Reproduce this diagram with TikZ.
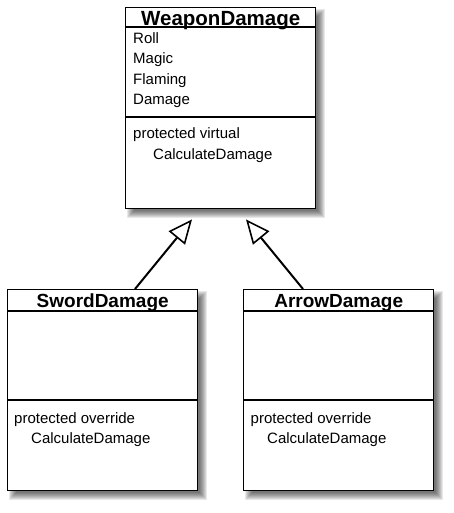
\documentclass[tikz,border=0pt]{standalone}
\usepackage{fontspec}
\setmainfont{Liberation Sans}
\usetikzlibrary{arrows.meta}
\newcommand{\shadowrect}[4]{%
  \foreach \r in {-3,-2,...,4}{%
    \fill[black,opacity=0.09] ({#1+6-\r},{#2+6-\r}) rectangle ({#3+6+\r},{#4+6+\r});
  }%
}
\tikzset{
  umlbox/.style={draw=black, line width=1.4pt, fill=white, rectangle, inner sep=0pt, anchor=north west},
  umltitle/.style={font=\fontsize{20.5}{22}\selectfont\bfseries, anchor=base, inner sep=0pt},
  subtitle/.style={umltitle, font=\fontsize{19}{21}\selectfont\bfseries},
  umltext/.style={font=\fontsize{15}{17}\selectfont, anchor=base west, inner sep=0pt},
  sepline/.style={line width=1.4pt},
  inh/.style={line width=2pt, -{Triangle[open, length=24pt, width=21pt, line width=1.6pt, fill=white]}}
}
\begin{document}
\begin{tikzpicture}[x=1pt, y=-1pt]
\useasboundingbox (0,0) rectangle (454,513);
% shadows
\shadowrect{125}{7}{315}{208}
\shadowrect{7}{289}{197}{490}
\shadowrect{243}{289}{433}{490}
% WeaponDamage
\node[umlbox, minimum width=190pt, minimum height=201pt] (wd) at (125,7) {};
\draw[sepline] ([yshift=-20pt]wd.north west) -- ([yshift=-20pt]wd.north east);
\draw[sepline] ([yshift=-110pt]wd.north west) -- ([yshift=-110pt]wd.north east);
\node[umltitle] (wdt) at ([yshift=-18.7pt]wd.north) {WeaponDamage};
\node[umltext] (a1) at (133,43.5) {Roll};
\node[umltext] (a2) at (133,64) {Magic};
\node[umltext] (a3) at (133,84.5) {Flaming};
\node[umltext] (a4) at (133,104.5) {Damage};
\node[umltext] (m1) at (133,139) {protected virtual};
\node[umltext] (m2) at (153,160) {CalculateDamage};
% SwordDamage
\node[umlbox, minimum width=190pt, minimum height=201pt] (sd) at (7,289) {};
\draw[sepline] ([yshift=-22pt]sd.north west) -- ([yshift=-22pt]sd.north east);
\draw[sepline] ([yshift=-111pt]sd.north west) -- ([yshift=-111pt]sd.north east);
\node[subtitle] (sdt) at ([yshift=-18pt]sd.north) {SwordDamage};
\node[umltext] (s1) at (14,423) {protected override};
\node[umltext] (s2) at (31,443.5) {CalculateDamage};
% ArrowDamage
\node[umlbox, minimum width=190pt, minimum height=201pt] (ad) at (243,289) {};
\draw[sepline] ([yshift=-22pt]ad.north west) -- ([yshift=-22pt]ad.north east);
\draw[sepline] ([yshift=-111pt]ad.north west) -- ([yshift=-111pt]ad.north east);
\node[subtitle] (adt) at ([yshift=-18pt]ad.north) {ArrowDamage};
\node[umltext] (r1) at (250.5,423) {protected override};
\node[umltext] (r2) at (267,443.5) {CalculateDamage};
% inheritance
\draw[inh] ([xshift=128pt]sd.north west) -- ([xshift=67pt,yshift=-10pt]wd.south west);
\draw[inh] ([xshift=60pt]ad.north west) -- ([xshift=121pt,yshift=-10pt]wd.south west);
\end{tikzpicture}
\end{document}
